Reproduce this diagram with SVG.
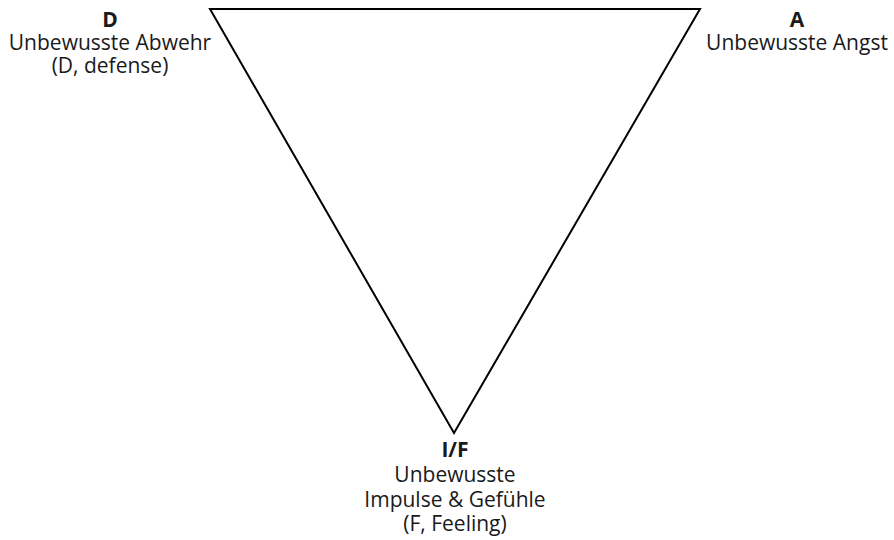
<svg xmlns="http://www.w3.org/2000/svg" width="894" height="540" viewBox="0 0 894 540">
<style>
text{font-family:"Open Sans","Noto Sans","Liberation Sans",sans-serif;font-size:21px;fill:#1a1a1a;text-anchor:middle}
.b{font-weight:bold}
.tri{fill:none;stroke:#000;stroke-width:2;stroke-linejoin:miter}
</style>
<rect width="894" height="540" fill="#fff"/>
<g id="connectors">
<polygon class="tri" points="210,9 700,9 454,433"/>
</g>
<g id="node-D">
<text x="110" y="27" class="b">D</text>
<text x="110" y="50">Unbewusste Abwehr</text>
<text x="110" y="73">(D, defense)</text>
</g>
<g id="node-A">
<text x="797" y="27" class="b">A</text>
<text x="797" y="50">Unbewusste Angst</text>
</g>
<g id="node-IF">
<text x="455" y="457" class="b">I/F</text>
<text x="455" y="482">Unbewusste</text>
<text x="455" y="507">Impulse &amp; Gefühle</text>
<text x="455" y="531">(F, Feeling)</text>
</g>
</svg>
